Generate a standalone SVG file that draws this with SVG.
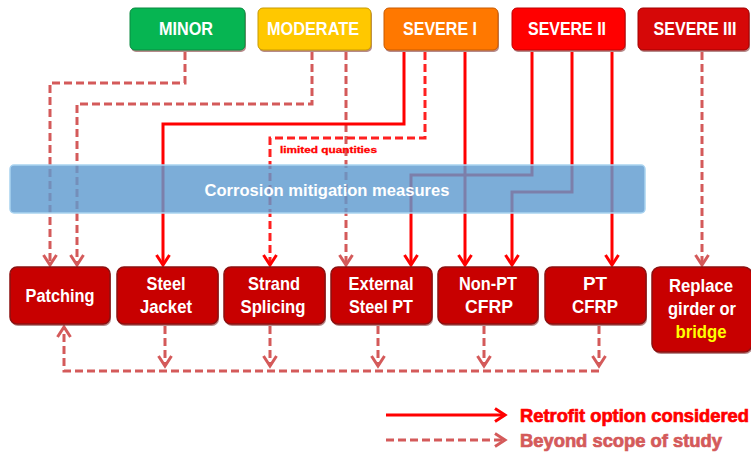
<svg xmlns="http://www.w3.org/2000/svg" width="751" height="457" viewBox="0 0 751 457">
<defs>
<style>
.t{font-family:"Liberation Sans",Arial,sans-serif;font-weight:bold;fill:#ffffff;text-anchor:middle}
.top{font-size:19px}
.bx{font-size:19px}
.sol{fill:none;stroke:#ff0000;stroke-width:3}
.das{fill:none;stroke:#d45a5a;stroke-width:3;stroke-dasharray:8 4}
.box{fill:#c80000;stroke:#8c1010;stroke-width:1.5}
.shd{fill:#7a2a2a;opacity:0.55}
.lg{font-family:"Liberation Sans",Arial,sans-serif;font-weight:bold;font-size:18px;stroke-width:0.7}
</style>
<marker id="ms" markerUnits="userSpaceOnUse" markerWidth="16" markerHeight="16" refX="12" refY="8" orient="auto" overflow="visible">
<path d="M2,1.5 L12,8 L2,14.5" fill="none" stroke="#ff0000" stroke-width="3"/>
</marker>
<marker id="md" markerUnits="userSpaceOnUse" markerWidth="16" markerHeight="16" refX="12" refY="8" orient="auto" overflow="visible">
<path d="M2,1.5 L12,8 L2,14.5" fill="none" stroke="#d45a5a" stroke-width="3"/>
</marker>
</defs>
<rect width="751" height="457" fill="#ffffff"/>

<g id="connectors">
<path class="das" d="M185,52 V83 H50 V265" marker-end="url(#md)"/>
<path class="das" d="M312,52 V104 H77 V265" marker-end="url(#md)"/>
<path class="das" d="M346,52 V265" marker-end="url(#md)"/>
<path class="sol" d="M404,52 V124 H163 V265" marker-end="url(#ms)"/>
<path class="das" style="stroke:#ff2020" d="M425,52 V138 H270 V265" marker-end="url(#ms)"/>
<path class="sol" d="M465,52 V265" marker-end="url(#ms)"/>
<path class="sol" d="M532,52 V175 H411 V265" marker-end="url(#ms)"/>
<path class="sol" d="M572,52 V192 H512 V265" marker-end="url(#ms)"/>
<path class="sol" d="M612,52 V265" marker-end="url(#ms)"/>
<path class="das" d="M702,52 V265" marker-end="url(#md)"/>
<path class="das" d="M165,326 V366" marker-end="url(#md)"/>
<path class="das" d="M270,326 V366" marker-end="url(#md)"/>
<path class="das" d="M378,326 V366" marker-end="url(#md)"/>
<path class="das" d="M484,326 V366" marker-end="url(#md)"/>
<path class="das" d="M599,326 V366" marker-end="url(#md)"/>
<path class="das" d="M599,371 H64 V327" marker-end="url(#md)"/>
<text x="280" y="153" textLength="97" lengthAdjust="spacingAndGlyphs" style="font-family:'Liberation Sans',Arial,sans-serif;font-weight:bold;font-size:9px;fill:#ff0000;stroke:#ff0000;stroke-width:0.3">limited quantities</text>
</g>

<g id="band">
<rect x="10" y="165" width="635" height="48" rx="4" fill="#5f9bd0" fill-opacity="0.82" stroke="#a9d3f0" stroke-width="1.5"/>
<text class="t" x="327" y="196" font-size="17" textLength="245" lengthAdjust="spacingAndGlyphs">Corrosion mitigation measures</text>
</g>

<g id="minor">
<rect x="131" y="10" width="115" height="42" rx="5" class="shd"/>
<rect x="130" y="8" width="115" height="42" rx="5" fill="#06b552" stroke="#0a8a40"/>
<text class="t top" x="186" y="35" textLength="54" lengthAdjust="spacingAndGlyphs">MINOR</text>
</g>
<g id="moderate">
<rect x="259" y="10" width="113" height="42" rx="5" class="shd"/>
<rect x="258" y="8" width="113" height="42" rx="5" fill="#ffc800" stroke="#c89a00"/>
<text class="t top" x="313" y="35" textLength="92" lengthAdjust="spacingAndGlyphs">MODERATE</text>
</g>
<g id="severe1">
<rect x="385" y="10" width="114" height="42" rx="5" class="shd"/>
<rect x="384" y="8" width="114" height="42" rx="5" fill="#ff7800" stroke="#c85a00"/>
<text class="t top" x="440" y="35" textLength="74" lengthAdjust="spacingAndGlyphs">SEVERE I</text>
</g>
<g id="severe2">
<rect x="513" y="10" width="113" height="42" rx="5" class="shd"/>
<rect x="512" y="8" width="113" height="42" rx="5" fill="#ff0000" stroke="#c00000"/>
<text class="t top" x="567" y="35" textLength="78" lengthAdjust="spacingAndGlyphs">SEVERE II</text>
</g>
<g id="severe3">
<rect x="639" y="10" width="111" height="42" rx="5" class="shd"/>
<rect x="638" y="8" width="111" height="42" rx="5" fill="#d60808" stroke="#a00000"/>
<text class="t top" x="695" y="35" textLength="83" lengthAdjust="spacingAndGlyphs">SEVERE III</text>
</g>

<g id="patching">
<rect x="11" y="269" width="100" height="57" rx="7" class="shd"/>
<rect x="10" y="267" width="100" height="57" rx="7" class="box"/>
<text class="t bx" x="60" y="302" textLength="69" lengthAdjust="spacingAndGlyphs">Patching</text>
</g>
<g id="steeljacket">
<rect x="118" y="269" width="101" height="57" rx="7" class="shd"/>
<rect x="117" y="267" width="101" height="57" rx="7" class="box"/>
<text class="t bx" x="166" y="290" textLength="39" lengthAdjust="spacingAndGlyphs">Steel</text>
<text class="t bx" x="166" y="313" textLength="52" lengthAdjust="spacingAndGlyphs">Jacket</text>
</g>
<g id="strandsplicing">
<rect x="225" y="269" width="101" height="57" rx="7" class="shd"/>
<rect x="224" y="267" width="101" height="57" rx="7" class="box"/>
<text class="t bx" x="274" y="290" textLength="52" lengthAdjust="spacingAndGlyphs">Strand</text>
<text class="t bx" x="273" y="313" textLength="65" lengthAdjust="spacingAndGlyphs">Splicing</text>
</g>
<g id="externalsteelpt">
<rect x="332" y="269" width="101" height="57" rx="7" class="shd"/>
<rect x="331" y="267" width="101" height="57" rx="7" class="box"/>
<text class="t bx" x="381" y="290" textLength="65" lengthAdjust="spacingAndGlyphs">External</text>
<text class="t bx" x="381" y="313" textLength="64" lengthAdjust="spacingAndGlyphs">Steel PT</text>
</g>
<g id="nonptcfrp">
<rect x="439" y="269" width="100" height="57" rx="7" class="shd"/>
<rect x="438" y="267" width="100" height="57" rx="7" class="box"/>
<text class="t bx" x="488" y="290" textLength="58" lengthAdjust="spacingAndGlyphs">Non-PT</text>
<text class="t bx" x="489" y="313" textLength="48" lengthAdjust="spacingAndGlyphs">CFRP</text>
</g>
<g id="ptcfrp">
<rect x="546" y="269" width="101" height="57" rx="7" class="shd"/>
<rect x="545" y="267" width="101" height="57" rx="7" class="box"/>
<text class="t bx" x="595" y="290" textLength="24" lengthAdjust="spacingAndGlyphs">PT</text>
<text class="t bx" x="595" y="313" textLength="46" lengthAdjust="spacingAndGlyphs">CFRP</text>
</g>
<g id="replace">
<rect x="653" y="269" width="100" height="85" rx="8" class="shd"/>
<rect x="652" y="267" width="100" height="85" rx="8" class="box"/>
<text class="t bx" x="701" y="292" textLength="64" lengthAdjust="spacingAndGlyphs">Replace</text>
<text class="t bx" x="702" y="315" textLength="68" lengthAdjust="spacingAndGlyphs">girder or</text>
<text class="t bx" x="701" y="338" textLength="51" lengthAdjust="spacingAndGlyphs" style="fill:#ffff00">bridge</text>
</g>

<g id="legend">
<path class="sol" d="M386,415 H505" marker-end="url(#ms)"/>
<path class="das" d="M386,440 H505" marker-end="url(#md)"/>
<text class="lg" x="520" y="422" textLength="229" lengthAdjust="spacingAndGlyphs" style="fill:#ff0000;stroke:#ff0000">Retrofit option considered</text>
<text class="lg" x="520" y="447" textLength="202" lengthAdjust="spacingAndGlyphs" style="fill:#d45a5a;stroke:#d45a5a">Beyond scope of study</text>
</g>
</svg>
